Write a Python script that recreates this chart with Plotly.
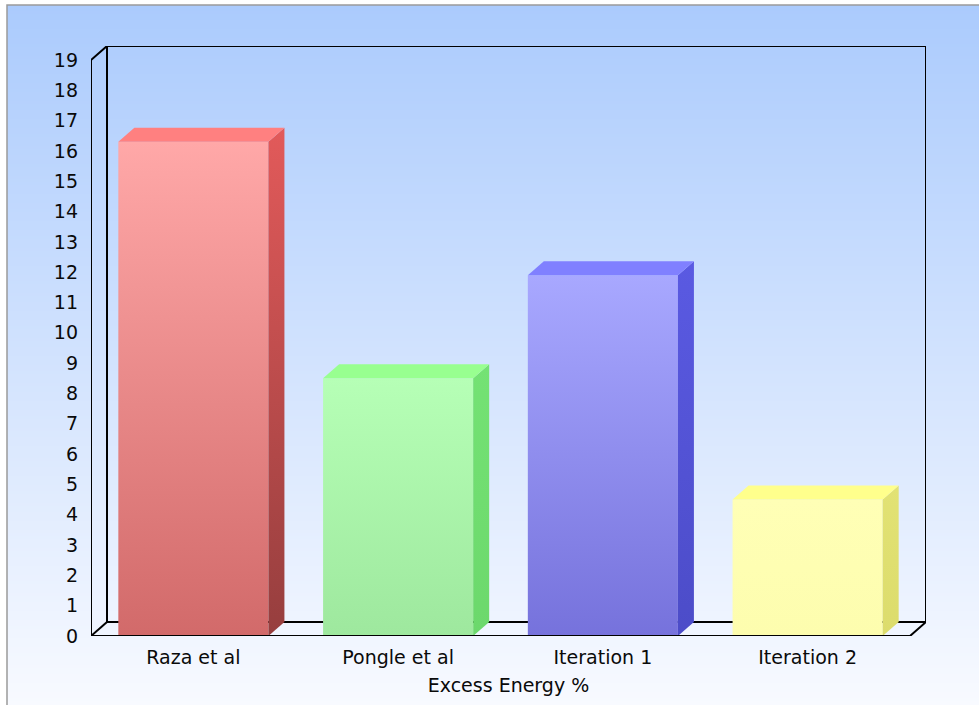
import plotly.graph_objects as go

# Data
categories = ["Raza et al", "Pongle et al", "Iteration 1", "Iteration 2"]
values = [16.3, 8.5, 11.9, 4.5]
y_ticks = list(range(0, 20))
x_title = "Excess Energy %"

# Face colours per bar: front (top, bottom), side (top, bottom), top face
front_top = ["#ffa8a8", "#b6ffb6", "#a8a8ff", "#ffffb6"]
front_bot = ["#d26a6a", "#9ee89e", "#7672dc", "#fdfdae"]
side_top = ["#e25a5a", "#74e274", "#5a5ae2", "#e2e274"]
side_bot = ["#963e3e", "#6cd86c", "#4c4cc8", "#dcdc6c"]
top_col = ["#ff8080", "#98ff90", "#8080ff", "#ffff8c"]

# Canvas / layout geometry (pixels)
W, H = 979, 705
M_L, M_R, M_T, M_B = 91, 53, 46, 69
DEPTH_X_PX, DEPTH_Y_PX = 16, 14
Y_MAX = 19
BAR_FRAC = 0.733

n = len(categories)
plot_w = W - M_L - M_R
plot_h = H - M_T - M_B
px_per_x = (plot_w - DEPTH_X_PX) / n
dx = DEPTH_X_PX / px_per_x
px_per_y = (plot_h - DEPTH_Y_PX) / Y_MAX
dy = DEPTH_Y_PX / px_per_y
x_lo, x_hi = -0.5, n - 0.5

fig = go.Figure()

def poly(xs, ys, c_top, c_bot, y_top):
    fig.add_trace(go.Scatter(
        x=xs + [xs[0]], y=ys + [ys[0]], mode="lines", fill="toself",
        line=dict(width=0), hoverinfo="skip", showlegend=False,
        fillgradient=dict(type="vertical", start=0, stop=y_top,
                          colorscale=[[0, c_bot], [1, c_top]]),
    ))

def lines(xs, ys):
    fig.add_trace(go.Scatter(
        x=xs, y=ys, mode="lines", line=dict(color="black", width=2),
        hoverinfo="skip", showlegend=False,
    ))

# Back walls of the 3D frame
lines([x_lo + dx, x_lo + dx, x_hi + dx, x_hi + dx, x_lo + dx],
      [dy, Y_MAX + dy, Y_MAX + dy, dy, dy])

# 3D bars
hw = BAR_FRAC / 2
for i, v in enumerate(values):
    l, r = i - hw, i + hw
    poly([l, r, r, l], [0, 0, v, v], front_top[i], front_bot[i], v)
    poly([r, r + dx, r + dx, r], [0, dy, v + dy, v], side_top[i], side_bot[i], v + dy)
    poly([l, r, r + dx, l + dx], [v, v, v + dy, v + dy], top_col[i], top_col[i], v + dy)

# Front edges of the frame
lines([x_lo + dx, x_lo, x_lo, x_hi, x_hi + dx],
      [Y_MAX + dy, Y_MAX, 0, 0, dy])
lines([x_lo, x_lo + dx], [0, dy])

# Background gradient as thin horizontal stripes covering the canvas
def lerp(a, b, t):
    return tuple(round(a[k] + (b[k] - a[k]) * t) for k in range(3))

g_top, g_bot = (171, 203, 253), (248, 250, 255)
top_px, left_px = 5, 7
shapes = []
step = 3
for y0 in range(top_px, H, step):
    t = (y0 - top_px) / (H - top_px)
    c = lerp(g_top, g_bot, t)
    shapes.append(dict(
        type="rect", xref="paper", yref="paper", layer="below",
        x0=(left_px - M_L) / plot_w, x1=(W + 5 - M_L) / plot_w,
        y0=(H - M_B - y0) / plot_h, y1=(H - M_B - y0 - step - 0.5) / plot_h,
        line=dict(width=0), fillcolor="rgb(%d,%d,%d)" % c,
    ))
shapes.append(dict(
    type="rect", xref="paper", yref="paper", layer="below",
    x0=(left_px - M_L) / plot_w, x1=(W + 5 - M_L) / plot_w,
    y0=(H - M_B - top_px) / plot_h, y1=(H - M_B - H - 5) / plot_h,
    line=dict(color="#9a9a9a", width=1.5), fillcolor="rgba(0,0,0,0)",
))

font = dict(family="DejaVu Sans", size=19, color="#0a0a0a")
fig.update_layout(
    width=W, height=H,
    margin=dict(l=M_L, r=M_R, t=M_T, b=M_B, pad=0),
    paper_bgcolor="white", plot_bgcolor="rgba(0,0,0,0)",
    shapes=shapes, font=font, showlegend=False,
    xaxis=dict(range=[x_lo, x_hi + dx], tickvals=list(range(n)), ticktext=categories,
               showgrid=False, zeroline=False, showline=False, ticks="",
               ticklabelstandoff=8, fixedrange=True,
               title=dict(text=x_title, standoff=11, font=font)),
    yaxis=dict(range=[0, Y_MAX + dy], tickvals=y_ticks, ticktext=[str(t) for t in y_ticks],
               showgrid=False, zeroline=False, showline=False, ticks="",
               ticklabelstandoff=12, fixedrange=True),
)

fig.write_html("out.html")
